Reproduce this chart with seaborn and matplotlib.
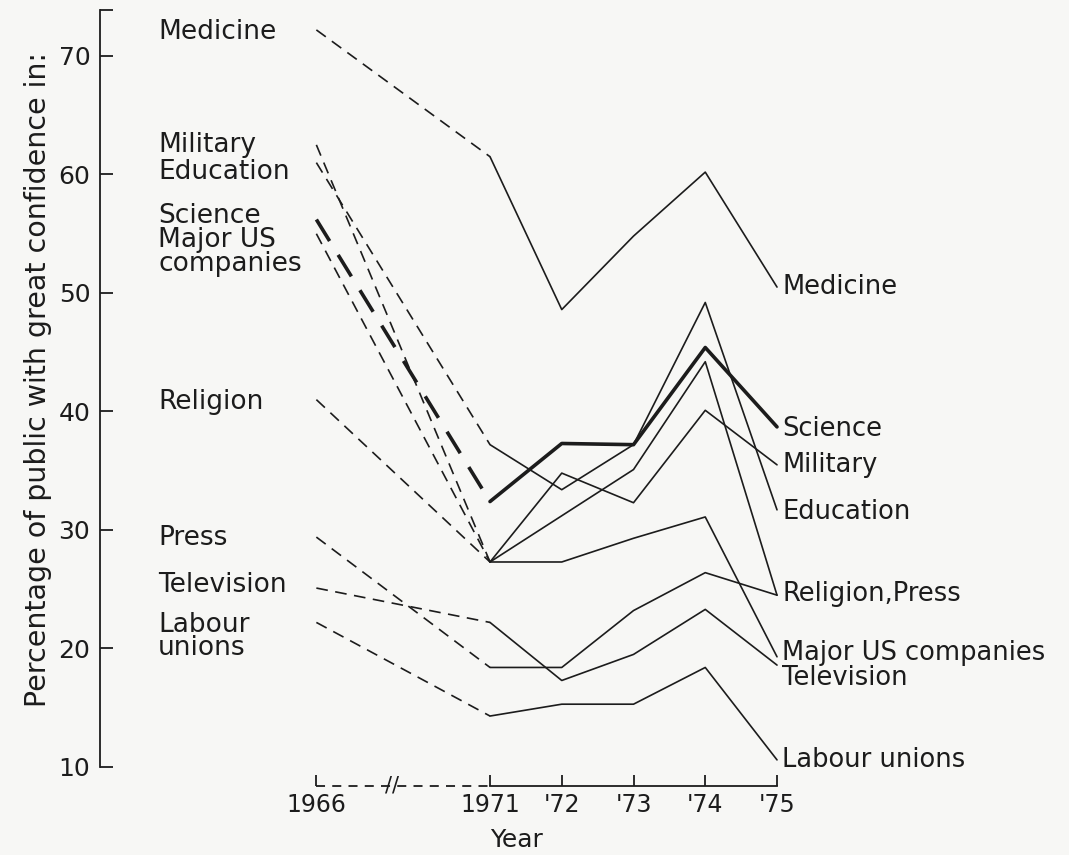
import numpy as np
import pandas as pd
import seaborn as sns
import matplotlib.pyplot as plt

# survey years (1966 sits on a broken axis)
years = ['1966', '1971', "'72", "'73", "'74", "'75"]

# % of public with great confidence
medicine = [72.2, 61.5, 48.6, 54.8, 60.2, 50.5]
military = [62.5, 27.3, 34.8, 32.3, 40.1, 35.5]
education = [61.0, 37.2, 33.4, 37.2, 49.2, 31.7]
science = [56.2, 32.4, 37.3, 37.2, 45.4, 38.7]
major_us = [55.0, 27.3, 27.3, 29.3, 31.1, 19.3]
religion = [41.0, 27.3, 31.2, 35.1, 44.2, 24.5]
press = [29.4, 18.4, 18.4, 23.2, 26.4, 24.5]
television = [25.1, 22.2, 17.3, 19.5, 23.3, 18.6]
labour = [22.2, 14.3, 15.3, 15.3, 18.4, 10.6]

series = {
    'Medicine': medicine, 'Military': military, 'Education': education,
    'Science': science, 'Major US companies': major_us, 'Religion': religion,
    'Press': press, 'Television': television, 'Labour unions': labour,
}

# layout: x position of each year on the broken axis
x_pos = [-2.42, 0, 1, 2, 3, 4]

# label layout (data units)
left_labels = [('Medicine', 72.0), ('Military', 62.5), ('Education', 60.2),
               ('Science', 56.5), ('Major US', 54.5), ('companies', 52.45),
               ('Religion', 40.8), ('Press', 29.3), ('Television', 25.4),
               ('Labour', 22.0), ('unions', 20.0)]
right_labels = [('Medicine', 50.5), ('Science', 38.5), ('Military', 35.5),
                ('Education', 31.5), ('Religion,Press', 24.6),
                ('Major US companies', 19.6), ('Television', 17.5),
                ('Labour unions', 10.6)]

rows = []
for name, vals in series.items():
    for i, (p, v) in enumerate(zip(x_pos, vals)):
        if i <= 1:
            rows.append(dict(series=name, seg='pre', x=p, y=v))
        if i >= 1:
            rows.append(dict(series=name, seg='post', x=p, y=v))
df = pd.DataFrame(rows)
df['weight'] = np.where(df['series'] == 'Science', 'thick', 'thin')

sns.set_style('white')
plt.rcParams['font.family'] = ['DejaVu Sans']
ink = '#1c1c1c'

fig = plt.figure(figsize=(10.69, 8.55), dpi=100)
fig.patch.set_facecolor('#f7f7f5')
ax = fig.add_axes([100 / 1069, 55 / 855, 960 / 1069, 790 / 855])
ax.set_facecolor('none')

sns.lineplot(data=df, x='x', y='y', units='series', style='seg', size='weight',
             sizes={'thick': 2.6, 'thin': 1.2},
             dashes={'pre': (7, 4.5), 'post': ''},
             color=ink, estimator=None, sort=False, legend=False, ax=ax)

ax.set_xlim(-5.4355, 7.944)
ax.set_ylim(7.215, 73.88)

base = 8.4
for s in ['top', 'right']:
    ax.spines[s].set_visible(False)
ax.spines['left'].set_bounds(10, 73.88)
ax.spines['bottom'].set_position(('data', base))
ax.spines['bottom'].set_bounds(0, 4)
for s in ['left', 'bottom']:
    ax.spines[s].set_color(ink)
    ax.spines[s].set_linewidth(1.3)

# dashed part of the broken x axis
ax.plot([x_pos[0], x_pos[1]], [base, base], ls=(0, (5, 4)), lw=1.3,
        color=ink, clip_on=False)
ax.text(-1.37, base, '//', ha='center', va='center', fontsize=15, color=ink)

ax.set_xticks(x_pos, years)
ax.set_yticks(range(10, 80, 10))
ax.set_yticks([73.88], minor=True)
ax.tick_params(axis='y', which='both', left=True, direction='in', length=9,
               width=1.3, labelsize=18, pad=7, colors=ink)
ax.tick_params(axis='x', bottom=True, direction='in', length=8, width=1.3,
               labelsize=17, pad=5, colors=ink)

ax.set_ylabel('Percentage of public with great confidence in:', fontsize=20.5,
              color=ink)
ax.yaxis.set_label_coords(-0.05, 0.532)
ax.set_xlabel('Year', fontsize=18, color=ink)
ax.xaxis.set_label_coords(0.434, -0.0354)

for txt, v in left_labels:
    ax.text(-4.627, v, txt, ha='left', va='center', fontsize=19, color=ink)
for txt, v in right_labels:
    ax.text(4.07, v, txt, ha='left', va='center', fontsize=18.5, color=ink)

fig.savefig('out.png', dpi=100, facecolor=fig.get_facecolor())
